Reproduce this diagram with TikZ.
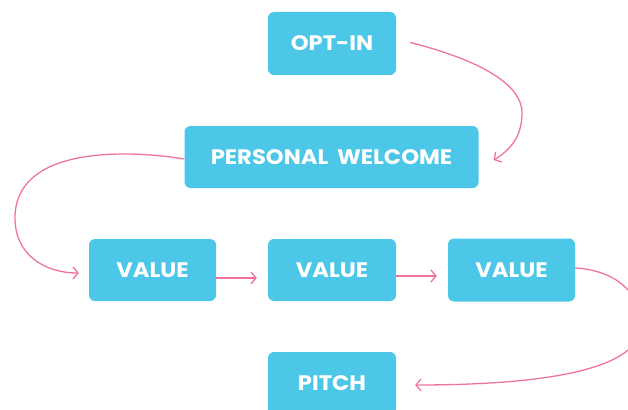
\documentclass[tikz,border=0pt]{standalone}
\usepackage{fontspec}
\setmainfont{Poppins}[BoldFont={Poppins Bold},BoldFeatures={FakeStretch=1.08,WordSpace=1.8}]
\usetikzlibrary{arrows.meta}
\definecolor{boxblue}{HTML}{4CC7E7}
\definecolor{linkpink}{HTML}{F0739F}
\begin{document}
\begin{tikzpicture}[x=1pt,y=-1pt,
  stagebox/.style={fill=boxblue,rounded corners=6pt,minimum width=128pt,
    minimum height=63pt,inner sep=0pt,text=white,
    font=\fontsize{21}{24}\selectfont\bfseries},
  link/.style={draw=linkpink,line width=1.3pt,
    -{Straight Barb[length=5pt,width=12pt,line width=1.3pt]}}]
\useasboundingbox (0,0) rectangle (628,409);

% stages of the sequence
\node[stagebox] (optin) at (332,43.5) {OPT-IN};
\node[stagebox,minimum width=294pt,minimum height=62pt] (welcome) at (331.5,157) {PERSONAL WELCOME};
\node[stagebox,minimum width=127pt,minimum height=62pt] (value1) at (152.5,270) {VALUE};
\node[stagebox,minimum height=62pt] (value2) at (332,270) {VALUE};
\node[stagebox,minimum width=127pt,minimum height=63pt] (value3) at (511.5,270) {VALUE};
\node[stagebox] (pitch) at (332,383.5) {PITCH};

% connectors
\draw[link] ([xshift=14pt,yshift=1pt]optin.east)
  .. controls (460,55) and (522,78) .. (522,113)
  .. controls (522,137) and (510,150) .. ([xshift=15pt,yshift=-3pt]welcome.east);
\draw[link] ([yshift=-2pt]welcome.west)
  .. controls (130,150) and (15,145) .. (15,218)
  .. controls (15,255) and (45,273) .. ([xshift=-10pt,yshift=-3pt]value1.west);
\draw[link] ([yshift=-8pt]value1.east) -- ([xshift=-11pt,yshift=-8pt]value2.west);
\draw[link] ([yshift=-6pt]value2.east) -- ([xshift=-11pt,yshift=-6pt]value3.west);
\draw[link] ([yshift=2pt]value3.east)
  .. controls (612,270) and (641,290) .. (641,325)
  .. controls (641,375) and (520,385) .. ([xshift=19pt,yshift=-1.5pt]pitch.east);
\end{tikzpicture}
\end{document}
